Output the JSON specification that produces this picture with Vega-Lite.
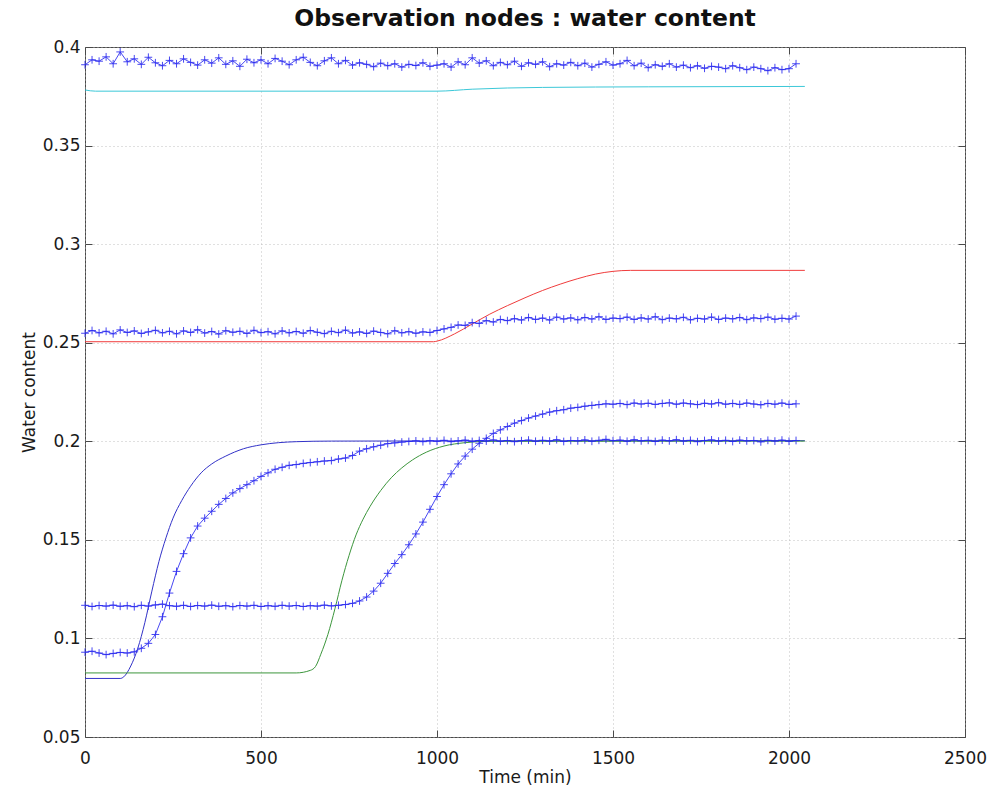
{
  "$schema": "https://vega.github.io/schema/vega-lite/v6.json",
  "width": 880,
  "height": 690,
  "autosize": {"type": "none"},
  "padding": {"left": 85, "top": 47, "right": 27, "bottom": 54},
  "background": "white",
  "config": {
    "font": "DejaVu Sans",
    "view": {"stroke": "#4a4a4a", "strokeWidth": 1}
  },
  "title": {
    "text": "Observation nodes : water content",
    "font": "DejaVu Sans",
    "fontSize": 23.5,
    "fontWeight": "bold",
    "color": "#111111",
    "baseline": "alphabetic",
    "offset": 20,
    "dy": 31
  },
  "datasets": {
    "model": [
      {"s": "cyan", "t": 0, "v": 0.3782}, {"s": "cyan", "t": 30, "v": 0.3776}, {"s": "cyan", "t": 1000, "v": 0.3776}, {"s": "cyan", "t": 1100, "v": 0.3786}, {"s": "cyan", "t": 1300, "v": 0.3795}, {"s": "cyan", "t": 1600, "v": 0.3798}, {"s": "cyan", "t": 2045, "v": 0.38},
      {"s": "red", "t": 0, "v": 0.2505}, {"s": "red", "t": 990, "v": 0.2505}, {"s": "red", "t": 1000, "v": 0.2508}, {"s": "red", "t": 1050, "v": 0.2545}, {"s": "red", "t": 1100, "v": 0.2595}, {"s": "red", "t": 1150, "v": 0.2645}, {"s": "red", "t": 1200, "v": 0.2688}, {"s": "red", "t": 1250, "v": 0.2728}, {"s": "red", "t": 1300, "v": 0.2765}, {"s": "red", "t": 1350, "v": 0.2797}, {"s": "red", "t": 1400, "v": 0.2825}, {"s": "red", "t": 1450, "v": 0.2848}, {"s": "red", "t": 1500, "v": 0.2862}, {"s": "red", "t": 1550, "v": 0.2867}, {"s": "red", "t": 2045, "v": 0.2867},
      {"s": "blue", "t": 0, "v": 0.0797}, {"s": "blue", "t": 100, "v": 0.0797}, {"s": "blue", "t": 110, "v": 0.0805}, {"s": "blue", "t": 130, "v": 0.086}, {"s": "blue", "t": 150, "v": 0.095}, {"s": "blue", "t": 170, "v": 0.108}, {"s": "blue", "t": 190, "v": 0.124}, {"s": "blue", "t": 210, "v": 0.139}, {"s": "blue", "t": 230, "v": 0.151}, {"s": "blue", "t": 250, "v": 0.161}, {"s": "blue", "t": 275, "v": 0.17}, {"s": "blue", "t": 300, "v": 0.1772}, {"s": "blue", "t": 330, "v": 0.184}, {"s": "blue", "t": 360, "v": 0.1885}, {"s": "blue", "t": 400, "v": 0.1925}, {"s": "blue", "t": 450, "v": 0.1962}, {"s": "blue", "t": 500, "v": 0.1982}, {"s": "blue", "t": 550, "v": 0.1993}, {"s": "blue", "t": 600, "v": 0.1998}, {"s": "blue", "t": 700, "v": 0.2001}, {"s": "blue", "t": 2045, "v": 0.2003},
      {"s": "green", "t": 0, "v": 0.0825}, {"s": "green", "t": 600, "v": 0.0825}, {"s": "green", "t": 640, "v": 0.0838}, {"s": "green", "t": 655, "v": 0.0858}, {"s": "green", "t": 670, "v": 0.092}, {"s": "green", "t": 690, "v": 0.102}, {"s": "green", "t": 710, "v": 0.115}, {"s": "green", "t": 730, "v": 0.1295}, {"s": "green", "t": 750, "v": 0.142}, {"s": "green", "t": 770, "v": 0.1525}, {"s": "green", "t": 790, "v": 0.1605}, {"s": "green", "t": 810, "v": 0.167}, {"s": "green", "t": 840, "v": 0.175}, {"s": "green", "t": 870, "v": 0.1815}, {"s": "green", "t": 900, "v": 0.1865}, {"s": "green", "t": 930, "v": 0.1905}, {"s": "green", "t": 970, "v": 0.1945}, {"s": "green", "t": 1020, "v": 0.1976}, {"s": "green", "t": 1080, "v": 0.1993}, {"s": "green", "t": 1150, "v": 0.2}, {"s": "green", "t": 2045, "v": 0.2001}
    ],
    "obs": [
      {"t": 0, "a": 0.391, "b": 0.2548, "c": 0.1168, "d": 0.093},
      {"t": 20, "a": 0.3935, "b": 0.2562, "c": 0.1162, "d": 0.0935},
      {"t": 40, "a": 0.3928, "b": 0.255, "c": 0.1167, "d": 0.0926},
      {"t": 60, "a": 0.395, "b": 0.2558, "c": 0.1164, "d": 0.0918},
      {"t": 80, "a": 0.3915, "b": 0.2545, "c": 0.1169, "d": 0.0924},
      {"t": 100, "a": 0.3975, "b": 0.2565, "c": 0.1163, "d": 0.0929},
      {"t": 120, "a": 0.3925, "b": 0.2552, "c": 0.1166, "d": 0.0926},
      {"t": 140, "a": 0.394, "b": 0.256, "c": 0.1161, "d": 0.0932},
      {"t": 160, "a": 0.3912, "b": 0.2547, "c": 0.1168, "d": 0.095},
      {"t": 180, "a": 0.3948, "b": 0.2555, "c": 0.1164, "d": 0.0975},
      {"t": 200, "a": 0.392, "b": 0.2563, "c": 0.117, "d": 0.102},
      {"t": 220, "a": 0.3905, "b": 0.255, "c": 0.1174, "d": 0.111},
      {"t": 240, "a": 0.3932, "b": 0.2558, "c": 0.1166, "d": 0.123},
      {"t": 260, "a": 0.3915, "b": 0.2545, "c": 0.1163, "d": 0.134},
      {"t": 280, "a": 0.394, "b": 0.256, "c": 0.1168, "d": 0.143},
      {"t": 300, "a": 0.3922, "b": 0.2552, "c": 0.1162, "d": 0.151},
      {"t": 320, "a": 0.3908, "b": 0.2566, "c": 0.1167, "d": 0.157},
      {"t": 340, "a": 0.3935, "b": 0.2549, "c": 0.1164, "d": 0.161},
      {"t": 360, "a": 0.3918, "b": 0.2557, "c": 0.1169, "d": 0.1645},
      {"t": 380, "a": 0.3945, "b": 0.2544, "c": 0.1163, "d": 0.168},
      {"t": 400, "a": 0.3912, "b": 0.2561, "c": 0.1166, "d": 0.171},
      {"t": 420, "a": 0.393, "b": 0.2553, "c": 0.1161, "d": 0.1738},
      {"t": 440, "a": 0.3902, "b": 0.2558, "c": 0.1167, "d": 0.176},
      {"t": 460, "a": 0.3938, "b": 0.2547, "c": 0.1164, "d": 0.178},
      {"t": 480, "a": 0.392, "b": 0.2563, "c": 0.1168, "d": 0.18},
      {"t": 500, "a": 0.3935, "b": 0.2551, "c": 0.1162, "d": 0.1822},
      {"t": 520, "a": 0.3915, "b": 0.2556, "c": 0.1166, "d": 0.184},
      {"t": 540, "a": 0.3942, "b": 0.2545, "c": 0.1163, "d": 0.1858},
      {"t": 560, "a": 0.3928, "b": 0.256, "c": 0.1168, "d": 0.1868},
      {"t": 580, "a": 0.391, "b": 0.255, "c": 0.1164, "d": 0.1878},
      {"t": 600, "a": 0.3935, "b": 0.2557, "c": 0.1167, "d": 0.1882},
      {"t": 620, "a": 0.3948, "b": 0.2548, "c": 0.1162, "d": 0.1888},
      {"t": 640, "a": 0.3922, "b": 0.2562, "c": 0.1166, "d": 0.1892},
      {"t": 660, "a": 0.3905, "b": 0.2553, "c": 0.1164, "d": 0.1896},
      {"t": 680, "a": 0.393, "b": 0.2546, "c": 0.1169, "d": 0.19},
      {"t": 700, "a": 0.3945, "b": 0.2558, "c": 0.1165, "d": 0.1902},
      {"t": 720, "a": 0.3915, "b": 0.2551, "c": 0.1168, "d": 0.191},
      {"t": 740, "a": 0.3932, "b": 0.2564, "c": 0.1172, "d": 0.1915},
      {"t": 760, "a": 0.3908, "b": 0.2549, "c": 0.1178, "d": 0.1928},
      {"t": 780, "a": 0.392, "b": 0.2555, "c": 0.119, "d": 0.195},
      {"t": 800, "a": 0.3912, "b": 0.2547, "c": 0.121, "d": 0.1962},
      {"t": 820, "a": 0.39, "b": 0.2559, "c": 0.124, "d": 0.1972},
      {"t": 840, "a": 0.3918, "b": 0.2552, "c": 0.128, "d": 0.198},
      {"t": 860, "a": 0.3905, "b": 0.2545, "c": 0.133, "d": 0.1988},
      {"t": 880, "a": 0.3915, "b": 0.2561, "c": 0.138, "d": 0.1992},
      {"t": 900, "a": 0.3898, "b": 0.255, "c": 0.1425, "d": 0.1996},
      {"t": 920, "a": 0.3912, "b": 0.2556, "c": 0.1475, "d": 0.1999},
      {"t": 940, "a": 0.3906, "b": 0.2548, "c": 0.153, "d": 0.2002},
      {"t": 960, "a": 0.392, "b": 0.2555, "c": 0.159, "d": 0.1998},
      {"t": 980, "a": 0.3902, "b": 0.2552, "c": 0.1655, "d": 0.2003},
      {"t": 1000, "a": 0.3908, "b": 0.2562, "c": 0.172, "d": 0.2},
      {"t": 1020, "a": 0.3915, "b": 0.257, "c": 0.178, "d": 0.2005},
      {"t": 1040, "a": 0.3898, "b": 0.2578, "c": 0.1835, "d": 0.1998},
      {"t": 1060, "a": 0.3925, "b": 0.259, "c": 0.1885, "d": 0.2002},
      {"t": 1080, "a": 0.391, "b": 0.2588, "c": 0.1925, "d": 0.2006},
      {"t": 1100, "a": 0.3945, "b": 0.2602, "c": 0.196, "d": 0.1999},
      {"t": 1120, "a": 0.3918, "b": 0.2598, "c": 0.199, "d": 0.2004},
      {"t": 1140, "a": 0.393, "b": 0.2612, "c": 0.2015, "d": 0.2001},
      {"t": 1160, "a": 0.3905, "b": 0.2605, "c": 0.204, "d": 0.2007},
      {"t": 1180, "a": 0.3922, "b": 0.2618, "c": 0.2058, "d": 0.2},
      {"t": 1200, "a": 0.391, "b": 0.2612, "c": 0.2075, "d": 0.2004},
      {"t": 1220, "a": 0.3928, "b": 0.2622, "c": 0.2092, "d": 0.1998},
      {"t": 1240, "a": 0.3902, "b": 0.2615, "c": 0.2105, "d": 0.2003},
      {"t": 1260, "a": 0.392, "b": 0.2628, "c": 0.2118, "d": 0.2006},
      {"t": 1280, "a": 0.3912, "b": 0.2618, "c": 0.2128, "d": 0.2},
      {"t": 1300, "a": 0.3925, "b": 0.2625, "c": 0.2138, "d": 0.2005},
      {"t": 1320, "a": 0.39, "b": 0.2615, "c": 0.2148, "d": 0.2001},
      {"t": 1340, "a": 0.3915, "b": 0.263, "c": 0.2155, "d": 0.2008},
      {"t": 1360, "a": 0.3908, "b": 0.262, "c": 0.216, "d": 0.1999},
      {"t": 1380, "a": 0.3922, "b": 0.2626, "c": 0.2168, "d": 0.2004},
      {"t": 1400, "a": 0.3905, "b": 0.2616, "c": 0.2172, "d": 0.2002},
      {"t": 1420, "a": 0.3918, "b": 0.2628, "c": 0.2178, "d": 0.2007},
      {"t": 1440, "a": 0.3898, "b": 0.262, "c": 0.2182, "d": 0.2},
      {"t": 1460, "a": 0.3912, "b": 0.2632, "c": 0.2186, "d": 0.2005},
      {"t": 1480, "a": 0.3925, "b": 0.2618, "c": 0.219, "d": 0.201},
      {"t": 1500, "a": 0.3908, "b": 0.2625, "c": 0.2188, "d": 0.2003},
      {"t": 1520, "a": 0.3915, "b": 0.2622, "c": 0.2192, "d": 0.2006},
      {"t": 1540, "a": 0.3932, "b": 0.263, "c": 0.2186, "d": 0.2},
      {"t": 1560, "a": 0.3905, "b": 0.2618, "c": 0.2194, "d": 0.2008},
      {"t": 1580, "a": 0.3918, "b": 0.2626, "c": 0.2189, "d": 0.2002},
      {"t": 1600, "a": 0.3895, "b": 0.262, "c": 0.2193, "d": 0.2005},
      {"t": 1620, "a": 0.391, "b": 0.2632, "c": 0.2187, "d": 0.1999},
      {"t": 1640, "a": 0.3902, "b": 0.2617, "c": 0.2192, "d": 0.2006},
      {"t": 1660, "a": 0.3915, "b": 0.2625, "c": 0.2195, "d": 0.2002},
      {"t": 1680, "a": 0.3898, "b": 0.2621, "c": 0.2188, "d": 0.2008},
      {"t": 1700, "a": 0.3908, "b": 0.2629, "c": 0.2194, "d": 0.2001},
      {"t": 1720, "a": 0.3895, "b": 0.2616, "c": 0.219, "d": 0.2005},
      {"t": 1740, "a": 0.3905, "b": 0.2624, "c": 0.2186, "d": 0.1998},
      {"t": 1760, "a": 0.3892, "b": 0.262, "c": 0.2193, "d": 0.2004},
      {"t": 1780, "a": 0.3902, "b": 0.263, "c": 0.2189, "d": 0.2007},
      {"t": 1800, "a": 0.3898, "b": 0.2618, "c": 0.2196, "d": 0.2001},
      {"t": 1820, "a": 0.389, "b": 0.2625, "c": 0.2188, "d": 0.2005},
      {"t": 1840, "a": 0.3905, "b": 0.2621, "c": 0.2192, "d": 0.1999},
      {"t": 1860, "a": 0.3895, "b": 0.2628, "c": 0.2187, "d": 0.2006},
      {"t": 1880, "a": 0.3885, "b": 0.2617, "c": 0.2194, "d": 0.2002},
      {"t": 1900, "a": 0.3898, "b": 0.2626, "c": 0.2189, "d": 0.2004},
      {"t": 1920, "a": 0.389, "b": 0.2622, "c": 0.2185, "d": 0.1997},
      {"t": 1940, "a": 0.388, "b": 0.263, "c": 0.2192, "d": 0.2005},
      {"t": 1960, "a": 0.3895, "b": 0.2619, "c": 0.2188, "d": 0.2001},
      {"t": 1980, "a": 0.3885, "b": 0.2624, "c": 0.2194, "d": 0.2006},
      {"t": 2000, "a": 0.389, "b": 0.262, "c": 0.2187, "d": 0.2},
      {"t": 2020, "a": 0.3915, "b": 0.2635, "c": 0.219, "d": 0.2004}
    ]
  },
  "resolve": {"axis": {"x": "independent", "y": "independent"}},
  "layer": [
    {
      "data": {"name": "model"},
      "mark": {"type": "line", "interpolate": "monotone", "strokeWidth": 1},
      "encoding": {
        "x": {
          "field": "t", "type": "quantitative",
          "scale": {"domain": [0, 2500], "nice": false, "zero": false},
          "axis": {
            "orient": "bottom",
            "values": [0, 500, 1000, 1500, 2000, 2500],
            "format": "d",
            "title": "Time (min)",
            "labelFlush": false,
            "grid": true, "gridDash": [1, 3], "gridColor": "#b0b0b0", "gridWidth": 0.8,
            "domain": false,
            "tickSize": -7, "tickColor": "#4a4a4a",
            "labelPadding": 20, "labelFontSize": 17, "labelColor": "#1a1a1a", "labelFont": "DejaVu Sans",
            "titleFontSize": 17, "titleFontWeight": "normal", "titleColor": "#1a1a1a", "titleFont": "DejaVu Sans", "titlePadding": 3
          }
        },
        "y": {
          "field": "v", "type": "quantitative",
          "scale": {"domain": [0.05, 0.4], "nice": false, "zero": false},
          "axis": {
            "orient": "left",
            "values": [0.05, 0.1, 0.15, 0.2, 0.25, 0.3, 0.35, 0.4],
            "format": ".2~f",
            "title": "Water content",
            "labelFlush": false,
            "grid": true, "gridDash": [1, 3], "gridColor": "#b0b0b0", "gridWidth": 0.8,
            "domain": false,
            "tickSize": -7, "tickColor": "#4a4a4a",
            "labelPadding": 12, "labelFontSize": 17, "labelColor": "#1a1a1a", "labelFont": "DejaVu Sans",
            "titleFontSize": 17, "titleFontWeight": "normal", "titleColor": "#1a1a1a", "titleFont": "DejaVu Sans", "titlePadding": 4
          }
        },
        "color": {
          "field": "s", "type": "nominal",
          "scale": {"domain": ["cyan", "red", "blue", "green"], "range": ["#3cc8d8", "#f03c3c", "#3232c8", "#3c963c"]},
          "legend": null
        }
      }
    },
    {
      "data": {"name": "obs"},
      "transform": [{"fold": ["a", "b", "c", "d"], "as": ["k", "v"]}],
      "layer": [
        {
          "mark": {"type": "line", "strokeWidth": 1, "color": "#2828f0", "opacity": 0.85},
          "encoding": {
            "x": {"field": "t", "type": "quantitative", "axis": null},
            "y": {"field": "v", "type": "quantitative", "axis": null},
            "detail": {"field": "k"}
          }
        },
        {
          "mark": {"type": "point", "shape": "M-1,0L1,0M0,-1L0,1", "filled": false, "size": 60, "strokeWidth": 1, "color": "#2828f0", "opacity": 0.85},
          "encoding": {
            "x": {"field": "t", "type": "quantitative", "axis": null},
            "y": {"field": "v", "type": "quantitative", "axis": null},
            "detail": {"field": "k"}
          }
        }
      ]
    },
    {
      "data": {"name": "model"},
      "mark": {"type": "point", "opacity": 0},
      "encoding": {
        "x": {
          "field": "t", "type": "quantitative",
          "axis": {"orient": "top", "values": [0, 500, 1000, 1500, 2000, 2500], "labels": false, "grid": false, "domain": false, "tickSize": -7, "tickColor": "#4a4a4a", "title": null}
        },
        "y": {
          "field": "v", "type": "quantitative",
          "axis": {"orient": "right", "values": [0.05, 0.1, 0.15, 0.2, 0.25, 0.3, 0.35, 0.4], "labels": false, "grid": false, "domain": false, "tickSize": -7, "tickColor": "#4a4a4a", "title": null}
        }
      }
    }
  ]
}
